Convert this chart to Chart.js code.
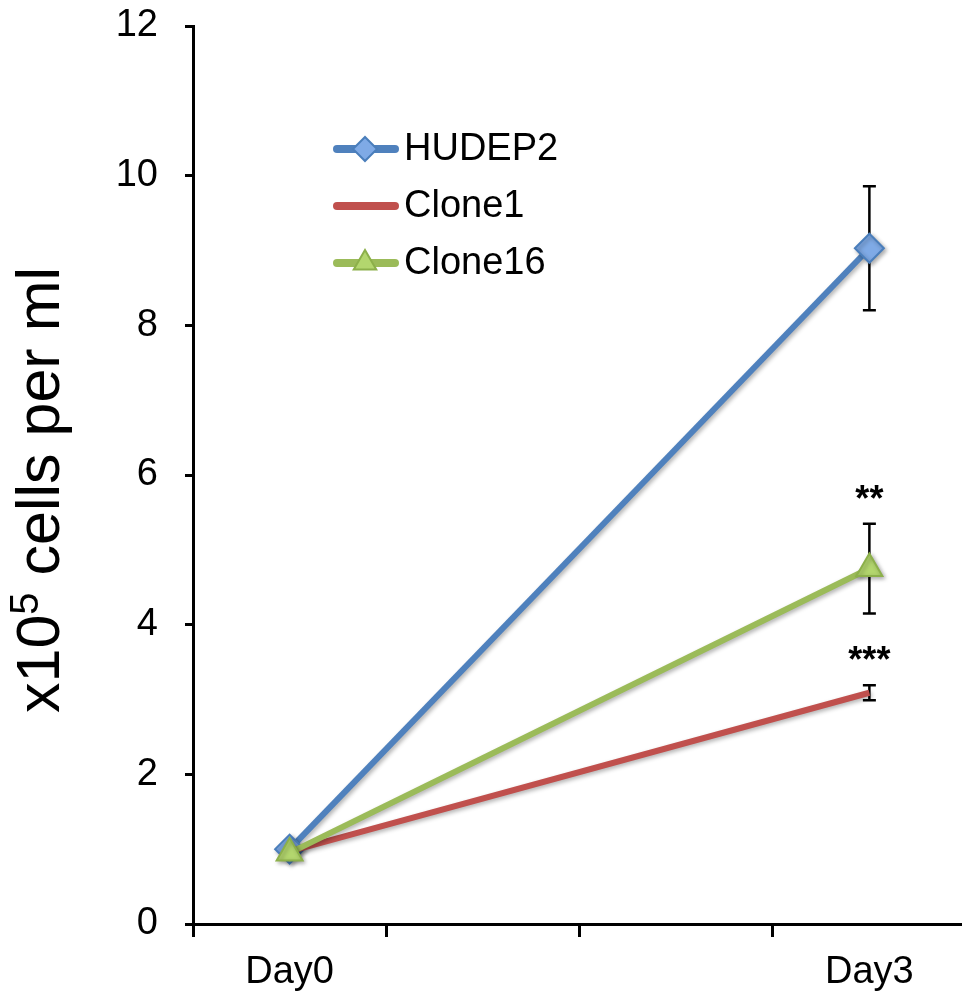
<!DOCTYPE html>
<html>
<head>
<meta charset="utf-8">
<script src="https://cdn.jsdelivr.net/npm/chart.js@4/dist/chart.umd.min.js"></script>
<style>
html,body{margin:0;padding:0;background:#fff;overflow:hidden;}
#wrap{width:966px;height:1000px;}
</style>
</head>
<body>
<div id="wrap"><canvas id="c" width="966" height="1000"></canvas></div>
<script>
// ---- data ----
const categories = ['Day0', '', '', 'Day3'];
const seriesNames = ['HUDEP2', 'Clone1', 'Clone16'];
const hudep2 = [1.00, null, null, 9.03];
const clone1 = [0.97, null, null, 3.09];
const clone16 = [0.95, null, null, 4.75];
const hudep2Err = [0, null, null, 0.83];
const clone1Err = [0, null, null, 0.10];
const clone16Err = [0, null, null, 0.60];
const significance = ['', '***', '**']; // per series at Day3
const yTicks = [0, 2, 4, 6, 8, 10, 12];

const FONT = '"Liberation Sans", Arial, Helvetica, sans-serif';
const colors = {
  HUDEP2: {line: '#4F81BD', fill: '#7FAAE6', border: '#4A7EBB'},
  Clone1: {line: '#C0504D'},
  Clone16: {line: '#9BBB59', fill: '#B3D66E', border: '#8CB04A'}
};

const errSets = [hudep2Err, clone1Err, clone16Err];
const valSets = [hudep2, clone1, clone16];

const errorBars = {
  id: 'errorBars',
  beforeDatasetsDraw(chart) {
    const ctx = chart.ctx, x = chart.scales.x, y = chart.scales.y;
    ctx.save();
    ctx.strokeStyle = '#000';
    ctx.lineWidth = 2.5;
    valSets.forEach((vals, s) => {
      vals.forEach((v, i) => {
        const e = errSets[s][i];
        if (v == null || !e) return;
        const px = x.getPixelForValue(i);
        const top = y.getPixelForValue(v + e), bot = y.getPixelForValue(v - e);
        ctx.beginPath();
        ctx.moveTo(px, top); ctx.lineTo(px, bot);
        ctx.moveTo(px - 6.5, top); ctx.lineTo(px + 6.5, top);
        ctx.moveTo(px - 6.5, bot); ctx.lineTo(px + 6.5, bot);
        ctx.stroke();
      });
    });
    ctx.restore();
  }
};

const shadow = {
  id: 'shadow',
  beforeDatasetsDraw(chart) {
    const ctx = chart.ctx;
    ctx.save();
    ctx.shadowColor = 'rgba(0,0,0,0.3)';
    ctx.shadowBlur = 4;
    ctx.shadowOffsetX = 2;
    ctx.shadowOffsetY = 2;
  },
  afterDatasetsDraw(chart) { chart.ctx.restore(); }
};

const annotations = {
  id: 'annotations',
  afterDraw(chart) {
    const ctx = chart.ctx, x = chart.scales.x, y = chart.scales.y;
    ctx.save();
    // significance stars
    ctx.fillStyle = '#000';
    ctx.font = 'bold 36px ' + FONT;
    ctx.textAlign = 'center';
    ctx.textBaseline = 'alphabetic';
    significance.forEach((txt, s) => {
      if (!txt) return;
      const i = 3;
      const v = valSets[s][i] + errSets[s][i];
      const px = x.getPixelForValue(i);
      const py = y.getPixelForValue(v);
      ctx.fillText(txt, px, py - 13);
    });
    // legend
    const ly = [149, 206, 263];
    seriesNames.forEach((name, k) => {
      const c = colors[name];
      ctx.save();
      ctx.lineCap = 'round';
      ctx.lineWidth = 8;
      ctx.strokeStyle = c.line;
      ctx.beginPath(); ctx.moveTo(337, ly[k]); ctx.lineTo(395, ly[k]); ctx.stroke();
      ctx.restore();
      if (name === 'HUDEP2') {
        ctx.beginPath();
        ctx.moveTo(365 - 12, ly[k]); ctx.lineTo(365, ly[k] - 12);
        ctx.lineTo(365 + 12, ly[k]); ctx.lineTo(365, ly[k] + 12); ctx.closePath();
        ctx.fillStyle = c.fill; ctx.fill();
        ctx.lineWidth = 2; ctx.strokeStyle = c.border; ctx.stroke();
      } else if (name === 'Clone16') {
        const r = 13;
        ctx.beginPath();
        ctx.moveTo(365, ly[k] - r);
        ctx.lineTo(365 + r * 0.866, ly[k] + r * 0.5);
        ctx.lineTo(365 - r * 0.866, ly[k] + r * 0.5);
        ctx.closePath();
        ctx.fillStyle = c.fill; ctx.fill();
        ctx.lineWidth = 2; ctx.strokeStyle = c.border; ctx.stroke();
      }
      ctx.fillStyle = '#000';
      ctx.font = '38px ' + FONT;
      ctx.textAlign = 'left';
      ctx.textBaseline = 'middle';
      ctx.fillText(name, 404, ly[k] + 1);
    });
    // y axis title with superscript
    ctx.save();
    ctx.translate(42, 490);
    ctx.rotate(-Math.PI / 2);
    ctx.fillStyle = '#000';
    ctx.textBaseline = 'middle';
    ctx.textAlign = 'left';
    const big = '61px ' + FONT, small = '40px ' + FONT;
    const p1 = 'x10', p2 = '5', p3 = ' cells per ml';
    ctx.font = big; const w1 = ctx.measureText(p1).width, w3 = ctx.measureText(p3).width;
    ctx.font = small; const w2 = ctx.measureText(p2).width;
    let cx = -(w1 + w2 + w3) / 2;
    ctx.font = big; ctx.fillText(p1, cx, 0); cx += w1;
    ctx.font = small; ctx.fillText(p2, cx, -15); cx += w2;
    ctx.font = big; ctx.fillText(p3, cx, 0);
    ctx.restore();
    ctx.restore();
  }
};

new Chart(document.getElementById('c'), {
  type: 'line',
  data: {
    labels: categories,
    datasets: [
      {label: 'HUDEP2', data: hudep2, borderColor: colors.HUDEP2.line, borderWidth: 6,
       pointStyle: 'rectRot', pointRadius: 14.5, pointBackgroundColor: colors.HUDEP2.fill,
       pointBorderColor: colors.HUDEP2.border, pointBorderWidth: 2, spanGaps: true, order: 2},
      {label: 'Clone1', data: clone1, borderColor: colors.Clone1.line, borderWidth: 6,
       pointRadius: 0, spanGaps: true, order: 1},
      {label: 'Clone16', data: clone16, borderColor: colors.Clone16.line, borderWidth: 6,
       pointStyle: 'triangle', pointRadius: 15, pointBackgroundColor: colors.Clone16.fill,
       pointBorderColor: colors.Clone16.border, pointBorderWidth: 2, spanGaps: true, order: 0}
    ]
  },
  options: {
    responsive: false,
    animation: false,
    layout: {autoPadding: false, padding: {top: 26, left: 0, right: 0, bottom: 0}},
    plugins: {legend: {display: false}, tooltip: {enabled: false}},
    scales: {
      x: {
        type: 'category',
        offset: true,
        grid: {offset: true, drawOnChartArea: false, drawTicks: true, tickLength: 13, color: '#000', lineWidth: 3},
        border: {display: true, color: '#000', width: 3},
        ticks: {color: '#000', font: {family: FONT, size: 38}, padding: 13, autoSkip: false, maxRotation: 0},
        afterFit(s) { s.height = 76; s.paddingLeft = 0; s.paddingRight = 0; }
      },
      y: {
        min: 0, max: 12,
        afterBuildTicks(s) { s.ticks = yTicks.map(v => ({value: v})); },
        grid: {drawOnChartArea: false, drawTicks: true, tickLength: 8, color: '#000', lineWidth: 3},
        border: {display: true, color: '#000', width: 3},
        ticks: {color: '#000', font: {family: FONT, size: 38}, padding: 27},
        afterFit(s) { s.width = 193; s.paddingTop = 0; s.paddingBottom = 0; }
      }
    }
  },
  plugins: [errorBars, shadow, annotations]
});
</script>
</body>
</html>
